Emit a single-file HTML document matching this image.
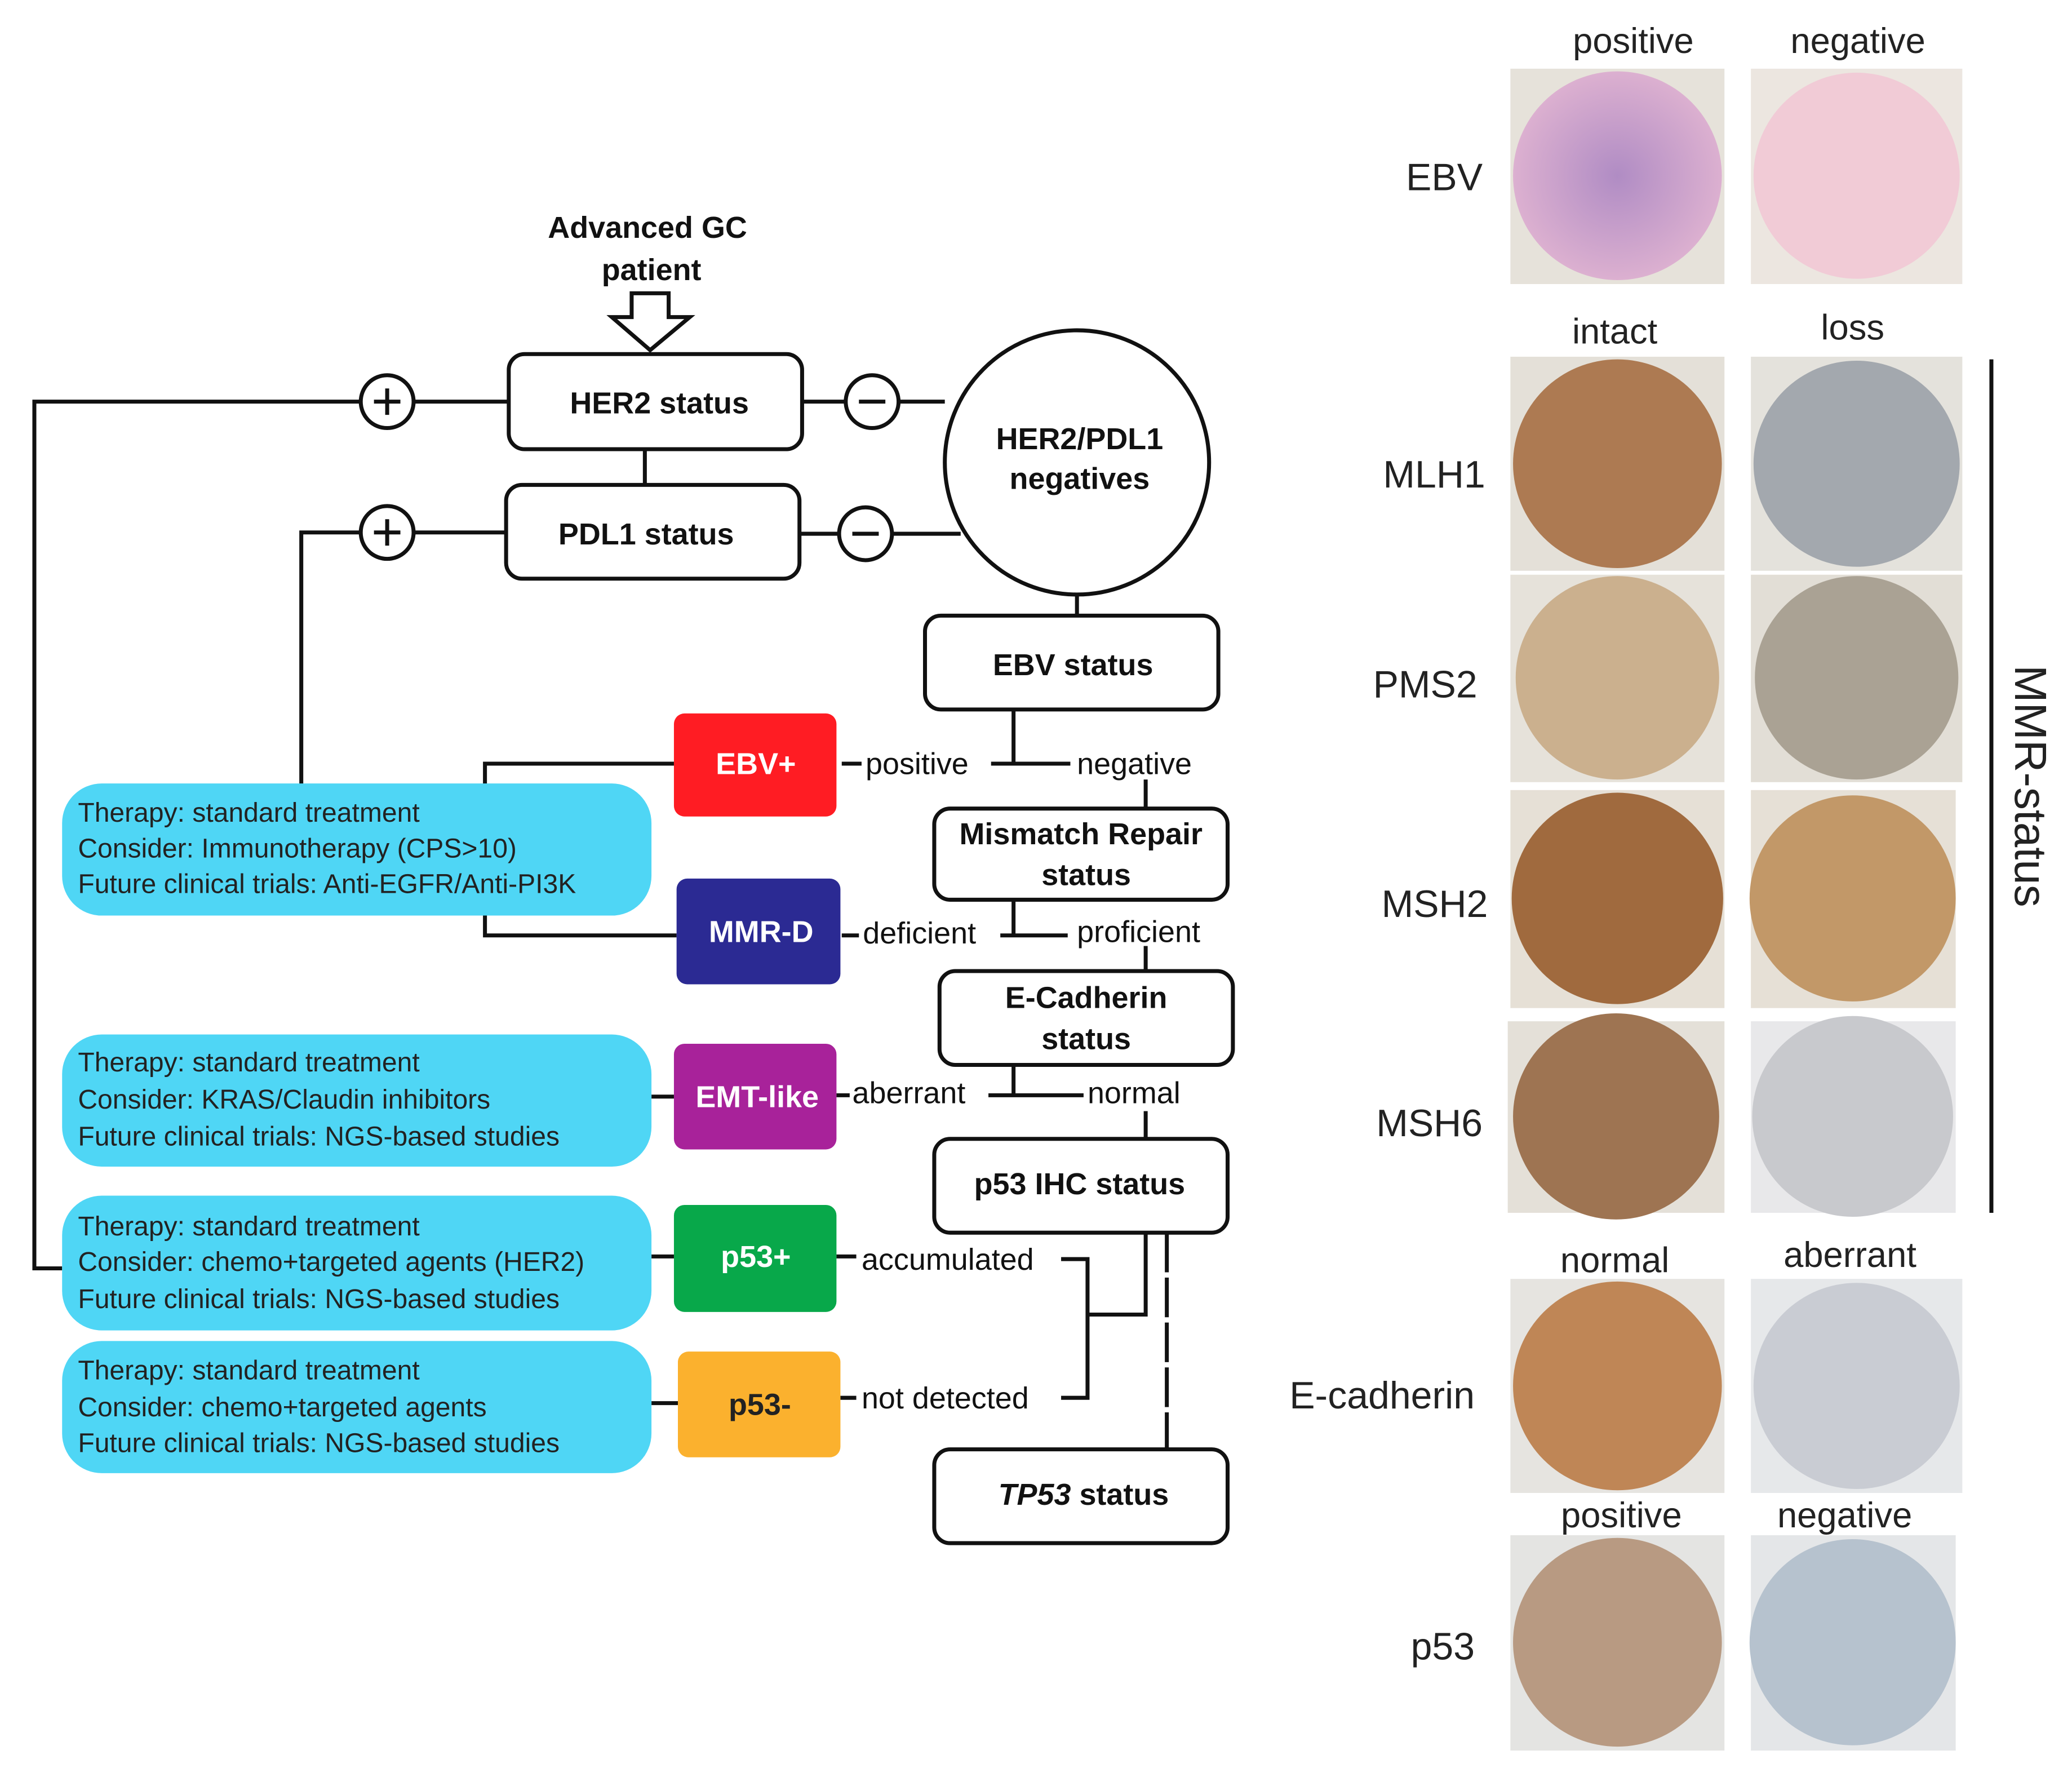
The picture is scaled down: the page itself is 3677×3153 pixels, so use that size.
<!DOCTYPE html>
<html><head><meta charset="utf-8"><style>
html,body{margin:0;padding:0;background:#fff}
svg{display:block;font-family:"Liberation Sans",Arial,Helvetica,sans-serif}
text{font-family:"Liberation Sans",Arial,Helvetica,sans-serif}
.b{font-weight:bold}
</style></head><body>
<svg width="3677" height="3153" viewBox="0 0 1568 1345" preserveAspectRatio="none" xmlns="http://www.w3.org/2000/svg" font-family="Liberation Sans, Arial, sans-serif">
<defs>
<radialGradient id="g1"><stop offset="0" stop-color="#b08cc4"/><stop offset="1" stop-color="#dcb0d0"/></radialGradient>
</defs>
<g fill="none" stroke="#111" stroke-width="3">
<polyline points="385,304 26,304 26,960 47,960"/>
<polyline points="383,403 228,403 228,595"/>
<line x1="607" y1="304" x2="715" y2="304"/>
<line x1="605" y1="404" x2="727" y2="404"/>
<line x1="488" y1="340" x2="488" y2="367"/>
<line x1="815" y1="450" x2="815" y2="466"/>
<line x1="767" y1="537" x2="767" y2="578"/>
<line x1="750" y1="578" x2="810" y2="578"/>
<line x1="637" y1="578" x2="652" y2="578"/>
<polyline points="510,578 367,578 367,595"/>
<polyline points="512,708 367,708 367,690"/>
<line x1="867" y1="590" x2="867" y2="612"/>
<line x1="767" y1="681" x2="767" y2="708"/>
<line x1="757" y1="708" x2="808" y2="708"/>
<line x1="637" y1="708" x2="650" y2="708"/>
<line x1="867" y1="716" x2="867" y2="735"/>
<line x1="767" y1="806" x2="767" y2="829"/>
<line x1="748" y1="829" x2="820" y2="829"/>
<line x1="633" y1="829" x2="643" y2="829"/>
<line x1="493" y1="830" x2="510" y2="830"/>
<line x1="867" y1="841" x2="867" y2="862"/>
<polyline points="803,953 823,953 823,1058 803,1058"/>
<polyline points="823,995 867,995 867,933"/>
<line x1="883" y1="933" x2="883" y2="1097" stroke-dasharray="30,4"/>
<line x1="633" y1="951" x2="648" y2="951"/>
<line x1="636" y1="1058" x2="648" y2="1058"/>
<line x1="493" y1="951" x2="510" y2="951"/>
<line x1="493" y1="1062" x2="513" y2="1062"/>
<rect x="385" y="268" width="222" height="72" rx="12" fill="#fff"/>
<rect x="383" y="367" width="222" height="71" rx="12" fill="#fff"/>
<rect x="700" y="466" width="222" height="71" rx="12" fill="#fff"/>
<rect x="707" y="612" width="222" height="69" rx="12" fill="#fff"/>
<rect x="711" y="735" width="222" height="71" rx="12" fill="#fff"/>
<rect x="707" y="862" width="222" height="71" rx="12" fill="#fff"/>
<rect x="707" y="1097" width="222" height="71" rx="12" fill="#fff"/>
<circle cx="815" cy="350" r="100" fill="#fff"/>
<circle cx="293" cy="304" r="20" fill="#fff"/>
<circle cx="293" cy="403" r="20" fill="#fff"/>
<circle cx="660" cy="304" r="20" fill="#fff"/>
<circle cx="655" cy="404" r="20" fill="#fff"/>
<line x1="283" y1="304" x2="303" y2="304"/><line x1="293" y1="294" x2="293" y2="314"/>
<line x1="283" y1="403" x2="303" y2="403"/><line x1="293" y1="393" x2="293" y2="413"/>
<line x1="650" y1="304" x2="670" y2="304"/>
<line x1="645" y1="404" x2="665" y2="404"/>
<polygon points="478,222 506,222 506,240 522,240 492,265 463,240 478,240" fill="#fff"/>
</g>
<rect x="510" y="540" width="123" height="78" rx="8" fill="#ff1c23"/>
<rect x="512" y="665" width="124" height="80" rx="8" fill="#2b2a93"/>
<rect x="510" y="790" width="123" height="80" rx="8" fill="#a8229a"/>
<rect x="510" y="912" width="123" height="81" rx="8" fill="#08a84a"/>
<rect x="513" y="1023" width="123" height="80" rx="8" fill="#fbb12e"/>
<g fill="#fff" font-size="23" text-anchor="middle" font-weight="bold">
<text x="572" y="586">EBV+</text>
<text x="576" y="713">MMR-D</text>
<text x="573" y="838">EMT-like</text>
<text x="572" y="959">p53+</text>
<text x="575" y="1071" fill="#222">p53-</text>
</g>
<g fill="#4fd6f5">
<rect x="47" y="593" width="446" height="100" rx="30"/>
<rect x="47" y="783" width="446" height="100" rx="30"/>
<rect x="47" y="905" width="446" height="102" rx="30"/>
<rect x="47" y="1015" width="446" height="100" rx="30"/>
</g>
<g font-size="20.5" fill="#222">
<text x="59" y="622">Therapy: standard treatment</text>
<text x="59" y="649">Consider: Immunotherapy (CPS&gt;10)</text>
<text x="59" y="676">Future clinical trials: Anti-EGFR/Anti-PI3K</text>
<text x="59" y="811">Therapy: standard treatment</text>
<text x="59" y="839">Consider: KRAS/Claudin inhibitors</text>
<text x="59" y="867">Future clinical trials: NGS-based studies</text>
<text x="59" y="935">Therapy: standard treatment</text>
<text x="59" y="962">Consider: chemo+targeted agents (HER2)</text>
<text x="59" y="990">Future clinical trials: NGS-based studies</text>
<text x="59" y="1044">Therapy: standard treatment</text>
<text x="59" y="1072">Consider: chemo+targeted agents</text>
<text x="59" y="1099">Future clinical trials: NGS-based studies</text>
</g>
<g font-size="23" fill="#111" text-anchor="middle" font-weight="bold">
<text x="490" y="180">Advanced GC</text>
<text x="493" y="212">patient</text>
<text x="499" y="313">HER2 status</text>
<text x="489" y="412">PDL1 status</text>
<text x="817" y="340">HER2/PDL1</text>
<text x="817" y="370">negatives</text>
<text x="812" y="511">EBV status</text>
<text x="818" y="639">Mismatch Repair</text>
<text x="822" y="670">status</text>
<text x="822" y="763">E-Cadherin</text>
<text x="822" y="794">status</text>
<text x="817" y="904">p53 IHC status</text>
<text x="820" y="1139"><tspan font-style="italic">TP53</tspan> status</text>
</g>
<g font-size="23" fill="#111">
<text x="655" y="586">positive</text>
<text x="815" y="586">negative</text>
<text x="653" y="714">deficient</text>
<text x="815" y="713">proficient</text>
<text x="645" y="835">aberrant</text>
<text x="823" y="835">normal</text>
<text x="652" y="961">accumulated</text>
<text x="652" y="1066">not detected</text>
</g>
<g font-size="27" fill="#222" text-anchor="middle">
<text x="1236" y="40">positive</text><text x="1406" y="40">negative</text>
<text x="1222" y="260">intact</text><text x="1402" y="257">loss</text>
<text x="1222" y="963">normal</text><text x="1400" y="959">aberrant</text>
<text x="1227" y="1156">positive</text><text x="1396" y="1156">negative</text>
</g>
<g font-size="29" fill="#222" text-anchor="end">
<text x="1122" y="144">EBV</text>
<text x="1124" y="369">MLH1</text>
<text x="1118" y="528">PMS2</text>
<text x="1126" y="694">MSH2</text>
<text x="1122" y="860">MSH6</text>
<text x="1116" y="1066">E-cadherin</text>
<text x="1116" y="1256">p53</text>
</g>
<line x1="1507" y1="272" x2="1507" y2="918" stroke="#111" stroke-width="3"/>
<text x="0" y="0" font-size="34" fill="#222" text-anchor="middle" transform="translate(1525,595) rotate(90)">MMR-status</text>
<g>
<rect x="1143" y="52" width="162" height="163" fill="#e6e2da"/><circle cx="1224" cy="133" r="79" fill="url(#g1)"/>
<rect x="1325" y="52" width="160" height="163" fill="#ece6e0"/><circle cx="1405" cy="133" r="78" fill="#f1cbd6"/>
<rect x="1143" y="270" width="162" height="162" fill="#e4e0d8"/><circle cx="1224" cy="351" r="79" fill="#ad7a52"/>
<rect x="1325" y="270" width="160" height="162" fill="#e4e2dc"/><circle cx="1405" cy="351" r="78" fill="#a3a8ae"/>
<rect x="1143" y="435" width="162" height="157" fill="#e6e2da"/><circle cx="1224" cy="513" r="77" fill="#cbb08e"/>
<rect x="1325" y="435" width="160" height="157" fill="#e2ded6"/><circle cx="1405" cy="513" r="77" fill="#aaa294"/>
<rect x="1143" y="598" width="162" height="165" fill="#e6e0d6"/><circle cx="1224" cy="680" r="80" fill="#a06a3e"/>
<rect x="1325" y="598" width="155" height="165" fill="#e6e0d6"/><circle cx="1402" cy="680" r="78" fill="#c29868"/>
<rect x="1141" y="773" width="164" height="145" fill="#e4e0d8"/><circle cx="1223" cy="845" r="78" fill="#9e7452"/>
<rect x="1325" y="773" width="155" height="145" fill="#e8e8ea"/><circle cx="1402" cy="845" r="76" fill="#c8c9cd"/>
<rect x="1143" y="968" width="162" height="162" fill="#e6e4e0"/><circle cx="1224" cy="1049" r="79" fill="#bf8656"/>
<rect x="1325" y="968" width="160" height="162" fill="#e6e8ea"/><circle cx="1405" cy="1049" r="78" fill="#c9ccd3"/>
<rect x="1143" y="1162" width="162" height="163" fill="#e4e4e2"/><circle cx="1224" cy="1243" r="79" fill="#b89a82"/>
<rect x="1325" y="1162" width="155" height="163" fill="#e4e6e8"/><circle cx="1402" cy="1243" r="78" fill="#b6c2ce"/>
</g>
</svg>
</body></html>
